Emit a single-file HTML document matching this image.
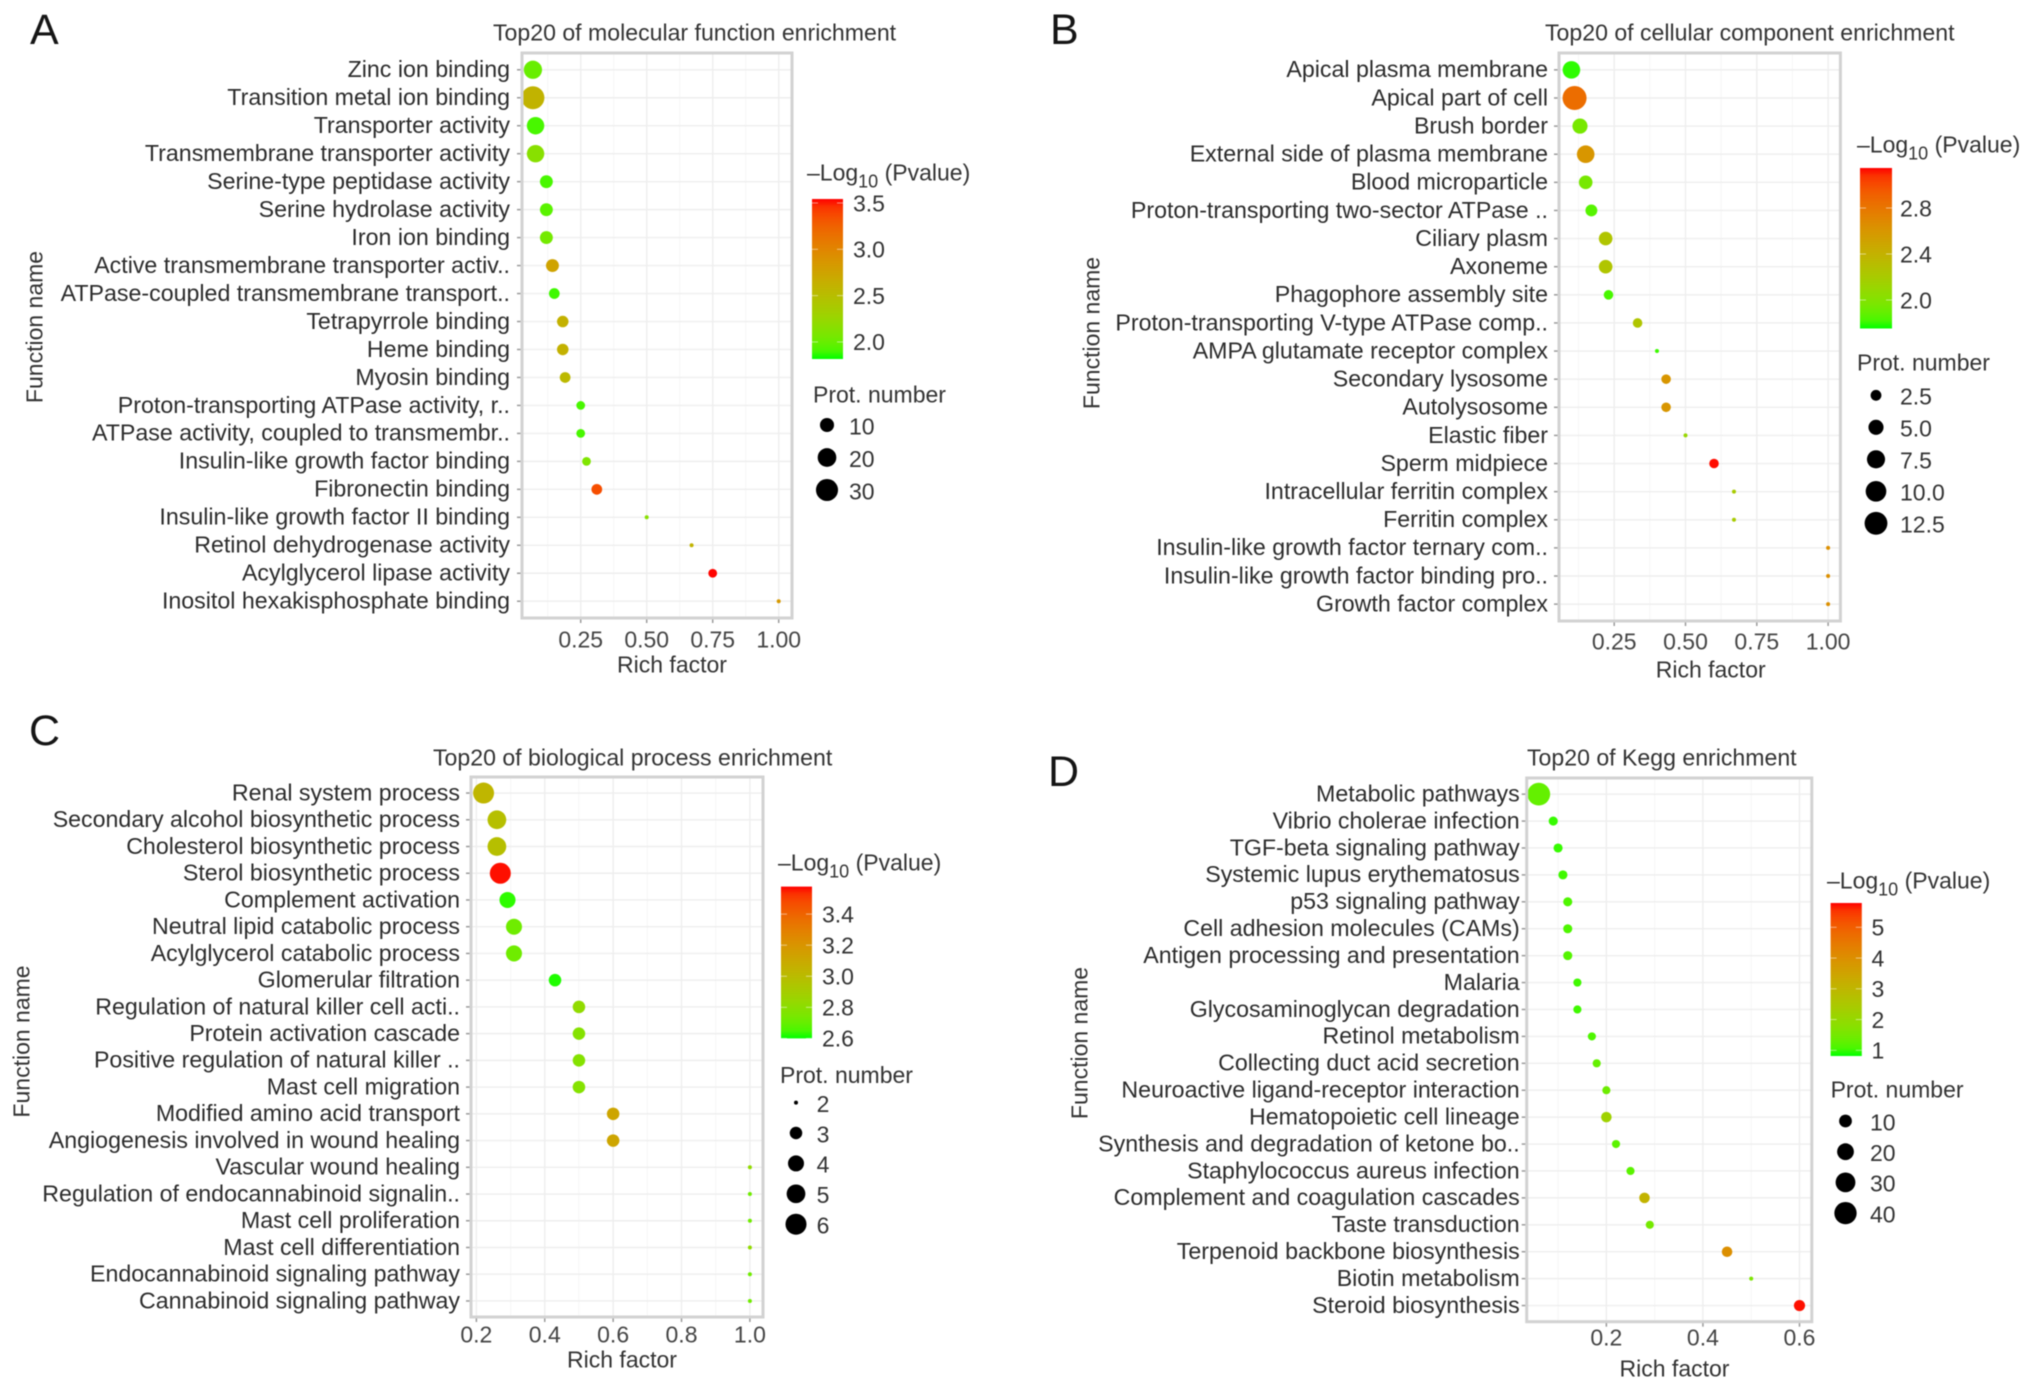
<!DOCTYPE html>
<html lang="en">
<head>
<meta charset="utf-8">
<title>Top20 enrichment bubble charts</title>
<style>
  html, body { margin: 0; padding: 0; background: #ffffff; }
  #figure { display: block; width: 2032px; height: 1388px; filter: blur(0.6px); }
  text { font-family: "Liberation Sans", Arial, sans-serif; font-size: 23px; fill: #333333; }
</style>
</head>
<body>
<svg id="figure" xmlns="http://www.w3.org/2000/svg" width="2032" height="1388" viewBox="0 0 2032 1388"></svg>
<script>
/* ---------- Panel A data ---------- */
const aTitle = "Top20 of molecular function enrichment";
const aTerms = ["Zinc ion binding","Transition metal ion binding","Transporter activity","Transmembrane transporter activity","Serine-type peptidase activity","Serine hydrolase activity","Iron ion binding","Active transmembrane transporter activ..","ATPase-coupled transmembrane transport..","Tetrapyrrole binding","Heme binding","Myosin binding","Proton-transporting ATPase activity, r..","ATPase activity, coupled to transmembr..","Insulin-like growth factor binding","Fibronectin binding","Insulin-like growth factor II binding","Retinol dehydrogenase activity","Acylglycerol lipase activity","Inositol hexakisphosphate binding"];
const aRich = [0.069,0.069,0.079,0.079,0.12,0.12,0.12,0.143,0.15,0.182,0.182,0.191,0.25,0.25,0.272,0.311,0.5,0.67,0.75,1];
const aCount = [19,33,17,17,8,8,8,8,5,6,6,5,3,3,3,5,1,1,3,1];
const aLogP = [2.0,2.6,1.9,2.15,1.9,1.95,2.05,2.75,1.88,2.62,2.62,2.55,1.9,1.9,2.1,3.35,2.15,2.6,3.54,2.85];
const aXTicks = [0.25,0.5,0.75,1];
const aXLabels = ["0.25","0.50","0.75","1.00"];
const aColorTicks = [3.5,3.0,2.5,2.0];
const aColorLabels = ["3.5","3.0","2.5","2.0"];
const aSizeTicks = [10,20,30];

/* ---------- Panel B data ---------- */
const bTitle = "Top20 of cellular component enrichment";
const bTerms = ["Apical plasma membrane","Apical part of cell","Brush border","External side of plasma membrane","Blood microparticle","Proton-transporting two-sector ATPase ..","Ciliary plasm","Axoneme","Phagophore assembly site","Proton-transporting V-type ATPase comp..","AMPA glutamate receptor complex","Secondary lysosome","Autolysosome","Elastic fiber","Sperm midpiece","Intracellular ferritin complex","Ferritin complex","Insulin-like growth factor ternary com..","Insulin-like growth factor binding pro..","Growth factor complex"];
const bRich = [0.1,0.111,0.13,0.15,0.15,0.17,0.22,0.22,0.23,0.332,0.4,0.432,0.432,0.5,0.6,0.67,0.67,1,1,1];
const bCount = [7,14,5,7,4,3,4,4,2,2,1,2,2,1,2,1,1,1,1,1];
const bLogP = [1.78,2.85,1.95,2.6,1.95,1.85,2.25,2.25,1.82,2.25,1.8,2.6,2.6,2.1,3.14,2.2,2.2,2.65,2.65,2.65];
const bXTicks = [0.25,0.5,0.75,1];
const bXLabels = ["0.25","0.50","0.75","1.00"];
const bColorTicks = [2.8,2.4,2.0];
const bColorLabels = ["2.8","2.4","2.0"];
const bSizeTicks = [2.5,5,7.5,10,12.5];
const bSizeLabels = ["2.5","5.0","7.5","10.0","12.5"];

/* ---------- Panel C data ---------- */
const cTitle = "Top20 of biological process enrichment";
const cTerms = ["Renal system process","Secondary alcohol biosynthetic process","Cholesterol biosynthetic process","Sterol biosynthetic process","Complement activation","Neutral lipid catabolic process","Acylglycerol catabolic process","Glomerular filtration","Regulation of natural killer cell acti..","Protein activation cascade","Positive regulation of natural killer ..","Mast cell migration","Modified amino acid transport","Angiogenesis involved in wound healing","Vascular wound healing","Regulation of endocannabinoid signalin..","Mast cell proliferation","Mast cell differentiation","Endocannabinoid signaling pathway","Cannabinoid signaling pathway"];
const cRich = [0.221,0.26,0.26,0.27,0.291,0.31,0.31,0.43,0.5,0.5,0.5,0.5,0.6,0.6,1,1,1,1,1,1];
const cCount = [6,5,5,6,4,4,4,3,3,3,3,3,3,3,2,2,2,2,2,2];
const cLogP = [3.03,2.98,2.98,3.57,2.62,2.72,2.72,2.61,2.82,2.78,2.78,2.78,3.12,3.12,2.82,2.72,2.72,2.82,2.72,2.72];
const cXTicks = [0.2,0.4,0.6,0.8,1];
const cXLabels = ["0.2","0.4","0.6","0.8","1.0"];
const cColorTicks = [3.4,3.2,3.0,2.8,2.6];
const cColorLabels = ["3.4","3.2","3.0","2.8","2.6"];
const cSizeTicks = [2,3,4,5,6];

/* ---------- Panel D data ---------- */
const dTitle = "Top20 of Kegg enrichment";
const dTerms = ["Metabolic pathways","Vibrio cholerae infection","TGF-beta signaling pathway","Systemic lupus erythematosus","p53 signaling pathway","Cell adhesion molecules (CAMs)","Antigen processing and presentation","Malaria","Glycosaminoglycan degradation","Retinol metabolism","Collecting duct acid secretion","Neuroactive ligand-receptor interaction","Hematopoietic cell lineage","Synthesis and degradation of ketone bo..","Staphylococcus aureus infection","Complement and coagulation cascades","Taste transduction","Terpenoid backbone biosynthesis","Biotin metabolism","Steroid biosynthesis"];
const dRich = [0.06,0.09,0.1,0.11,0.12,0.12,0.12,0.14,0.14,0.17,0.18,0.2,0.2,0.22,0.25,0.279,0.29,0.45,0.5,0.6];
const dCount = [42,4,4,4,4,4,4,3,3,3,3,3,6,3,3,6,3,6,1,7];
const dLogP = [1.3,0.95,0.95,1.0,1.1,1.1,1.15,1.0,1.0,1.1,1.3,1.4,2.2,1.2,1.2,3.1,1.5,4.0,1.6,5.75];
const dXTicks = [0.2,0.4,0.6];
const dXLabels = ["0.2","0.4","0.6"];
const dColorTicks = [5,4,3,2,1];
const dColorLabels = ["5","4","3","2","1"];
const dSizeTicks = [10,20,30,40];

/* ---------- Layout (no data here) ---------- */
const panels = [
  { id:"a", letter:"A", letterX:30, letterY:44, title:aTitle, titleX:493, titleY:32,
    terms:aTerms, rich:aRich, count:aCount, logP:aLogP, xTicks:aXTicks, xLabels:aXLabels,
    colorTicks:aColorTicks, colorLabels:aColorLabels, sizeTicks:aSizeTicks, sizeLabels:aSizeTicks.map(String),
    left:522, right:792, top:53, bottom:618, xAt0:514.7, xPerUnit:264, labelGap:12,
    axisTitleX:672, axisTitleY:664, tickLabelY:639, funcX:34, funcY:327,
    legX:807, legY:172, barL:812, barR:843, barT:199, barB:359, cTop:3.543, cBottom:1.816, cLabelX:853,
    protX:813, protY:394, sizeX:827, sizeY:425, sizeStep:32.5, sizeLabelX:849,
    nMin:1, nMax:33, dMin:4, dMax:23 },
  { id:"b", letter:"B", letterX:1050, letterY:44, title:bTitle, titleX:1545, titleY:32,
    terms:bTerms, rich:bRich, count:bCount, logP:bLogP, xTicks:bXTicks, xLabels:bXLabels,
    colorTicks:bColorTicks, colorLabels:bColorLabels, sizeTicks:bSizeTicks, sizeLabels:bSizeLabels,
    left:1559, right:1840.4, top:53, bottom:621, xAt0:1542.9, xPerUnit:285.2, labelGap:11,
    axisTitleX:1710.7, axisTitleY:669, tickLabelY:641, funcX:1091, funcY:333,
    legX:1857, legY:144, barL:1860, barR:1892, barT:168, barB:328.5, cTop:3.148, cBottom:1.752, cLabelX:1900,
    protX:1857, protY:362, sizeX:1876, sizeY:395.3, sizeStep:32, sizeLabelX:1900,
    nMin:1, nMax:14, dMin:4, dMax:24 },
  { id:"c", letter:"C", letterX:29, letterY:745, title:cTitle, titleX:433, titleY:757,
    terms:cTerms, rich:cRich, count:cCount, logP:cLogP, xTicks:cXTicks, xLabels:cXLabels,
    colorTicks:cColorTicks, colorLabels:cColorLabels, sizeTicks:cSizeTicks, sizeLabels:cSizeTicks.map(String),
    left:471, right:763, top:777, bottom:1317, xAt0:408, xPerUnit:341.9, labelGap:11,
    axisTitleX:622, axisTitleY:1359, tickLabelY:1334, funcX:21, funcY:1041.5,
    legX:778, legY:862, barL:781, barR:812, barT:886.6, barB:1038.4, cTop:3.577, cBottom:2.6, cLabelX:822,
    protX:780, protY:1074.6, sizeX:796, sizeY:1102.6, sizeStep:30.4, sizeLabelX:816.6,
    nMin:2, nMax:6, dMin:4, dMax:21 },
  { id:"d", letter:"D", letterX:1048, letterY:786, title:dTitle, titleX:1527, titleY:757,
    terms:dTerms, rich:dRich, count:dCount, logP:dLogP, xTicks:dXTicks, xLabels:dXLabels,
    colorTicks:dColorTicks, colorLabels:dColorLabels, sizeTicks:dSizeTicks, sizeLabels:dSizeTicks.map(String),
    left:1526.7, right:1811.8, top:778, bottom:1321.7, xAt0:1509.8, xPerUnit:482.8, labelGap:7,
    axisTitleX:1674.5, axisTitleY:1368, tickLabelY:1337, funcX:1079, funcY:1043,
    legX:1827, legY:880, barL:1830.6, barR:1861.8, barT:903, barB:1056, cTop:5.79, cBottom:0.815, cLabelX:1871.5,
    protX:1830.6, protY:1089, sizeX:1845.5, sizeY:1121, sizeStep:30.7, sizeLabelX:1870,
    nMin:1, nMax:43, dMin:4, dMax:23 }
];

/* ---------- Helpers ---------- */
const NS = "http://www.w3.org/2000/svg";
const root = document.getElementById("figure");
const defs = document.createElementNS(NS, "defs");
root.appendChild(defs);

function mk(tag, attrs, parent) {
  const el = document.createElementNS(NS, tag);
  for (const k in attrs) el.setAttribute(k, attrs[k]);
  parent.appendChild(el);
  return el;
}
function slug(s) {
  return String(s).toLowerCase().replace(/[^a-z0-9]+/g, "-").replace(/^-|-$/g, "");
}
function rgb2lab(c) {
  const f = c.map(v => { v /= 255; return v > 0.04045 ? Math.pow((v + 0.055) / 1.055, 2.4) : v / 12.92; });
  const X = (0.4124564*f[0] + 0.3575761*f[1] + 0.1804375*f[2]) / 0.95047;
  const Y = (0.2126729*f[0] + 0.7151522*f[1] + 0.0721750*f[2]);
  const Z = (0.0193339*f[0] + 0.1191920*f[1] + 0.9503041*f[2]) / 1.08883;
  const g = t => t > 0.008856 ? Math.cbrt(t) : 7.787*t + 16/116;
  return [116*g(Y) - 16, 500*(g(X) - g(Y)), 200*(g(Y) - g(Z))];
}
function lab2rgb(l) {
  const fy = (l[0] + 16) / 116, fx = fy + l[1] / 500, fz = fy - l[2] / 200;
  const h = t => t*t*t > 0.008856 ? t*t*t : (t - 16/116) / 7.787;
  const X = h(fx)*0.95047, Y = h(fy), Z = h(fz)*1.08883;
  const lin = [ 3.2404542*X - 1.5371385*Y - 0.4985314*Z,
               -0.9692660*X + 1.8760108*Y + 0.0415560*Z,
                0.0556434*X - 0.2040259*Y + 1.0572252*Z];
  return lin.map(v => {
    v = Math.max(0, Math.min(1, v));
    v = v > 0.0031308 ? 1.055*Math.pow(v, 1/2.4) - 0.055 : 12.92*v;
    return Math.round(v*255);
  });
}
const LOW = rgb2lab([0,255,0]), HIGH = rgb2lab([255,0,0]);
function gradientColor(t) {
  t = Math.max(0, Math.min(1, t));
  const c = lab2rgb(LOW.map((v, i) => v + (HIGH[i] - v)*t));
  return "rgb(" + c.join(",") + ")";
}

function drawPanel(p) {
  const g = mk("g", {}, root);
  
  

  const xScale = v => p.xAt0 + p.xPerUnit * v;
  const rowStep = (p.bottom - p.top) / (p.terms.length - 1 + 1.2);
  const yScale = i => p.top + (i + 0.6) * rowStep;
  const colorT = v => (v - p.cBottom) / (p.cTop - p.cBottom);
  const barY = v => p.barB - (v - p.cBottom) / (p.cTop - p.cBottom) * (p.barB - p.barT);
  const diameter = n => p.dMin + (p.dMax - p.dMin) * Math.sqrt(Math.max(0, n - p.nMin) / (p.nMax - p.nMin));

  /* panel letter */
  const letter = mk("text", { x:p.letterX, y:p.letterY, style:"font-size:43px;fill:#151515" }, g);
  letter.textContent = p.letter;
  
  

  /* title */
  const title = mk("text", { x:p.titleX, y:p.titleY, dy:"0.36em", style:"font-size:23.1px" }, g);
  title.textContent = p.title;
  
  

  /* minor vertical grid */
  const tickStep = p.xTicks.length > 1 ? p.xTicks[1] - p.xTicks[0] : 0;
  for (let k = -1; k < p.xTicks.length; k++) {
    const mv = p.xTicks[0] + (k + 0.5) * tickStep;
    const mx = xScale(mv);
    if (mx <= p.left || mx >= p.right) continue;
    const minor = mk("line", { x1:mx, x2:mx, y1:p.top, y2:p.bottom, stroke:"#f6f6f6", "stroke-width":1 }, g);
    
    
  }
  /* major vertical grid, ticks and labels */
  p.xTicks.forEach((v, i) => {
    const x = xScale(v);
    const line = mk("line", { x1:x, x2:x, y1:p.top, y2:p.bottom, stroke:"#eeeeee", "stroke-width":1.4 }, g);
    
    
    const tick = mk("line", { x1:x, x2:x, y1:p.bottom, y2:p.bottom + 5, stroke:"#9a9a9a", "stroke-width":1.5 }, g);
    
    
    const label = mk("text", { x:x, y:p.tickLabelY, dy:"0.36em", "text-anchor":"middle", style:"fill:#444444" }, g);
    label.textContent = p.xLabels[i];
    
    
  });

  /* rows: gridline, tick, label */
  p.terms.forEach((term, i) => {
    const y = yScale(i);
    const line = mk("line", { x1:p.left, x2:p.right, y1:y, y2:y, stroke:"#eeeeee", "stroke-width":1.4 }, g);
    
    
    const tick = mk("line", { x1:p.left - 5, x2:p.left, y1:y, y2:y, stroke:"#9a9a9a", "stroke-width":1.5 }, g);
    
    
    const label = mk("text", { x:p.left - p.labelGap, y:y - 1, dy:"0.36em", "text-anchor":"end", style:"font-size:23.2px;fill:#2c2c2c" }, g);
    label.textContent = term;
    
    
  });

  /* bubbles */
  p.terms.forEach((term, i) => {
    const dot = mk("circle", { cx:xScale(p.rich[i]), cy:yScale(i), r:diameter(p.count[i]) / 2, fill:gradientColor(colorT(p.logP[i])) }, g);
    
    
  });

  /* panel border */
  const border = mk("rect", { x:p.left, y:p.top, width:p.right - p.left, height:p.bottom - p.top, fill:"none", stroke:"#d2d2d2", "stroke-width":3 }, g);
  
  

  /* axis titles */
  const xTitle = mk("text", { x:p.axisTitleX, y:p.axisTitleY, dy:"0.36em", "text-anchor":"middle" }, g);
  xTitle.textContent = "Rich factor";
  
  
  const yTitle = mk("text", { x:0, y:0, dy:"0.36em", "text-anchor":"middle", transform:"translate(" + p.funcX + "," + p.funcY + ") rotate(-90)" }, g);
  yTitle.textContent = "Function name";
  
  

  /* colour legend */
  const legT = mk("text", { x:p.legX, y:p.legY, dy:"0.36em" }, g);
  
  
  const t1 = mk("tspan", {}, legT);
  t1.textContent = "\u2013Log";
  const t2 = mk("tspan", { dy:"7", style:"font-size:18px" }, legT);
  t2.textContent = "10";
  const t3 = mk("tspan", { dy:"-7" }, legT);
  t3.textContent = " (Pvalue)";

  const grad = mk("linearGradient", { id:"grad-" + p.id, x1:"0", x2:"0", y1:"1", y2:"0" }, defs);
  for (let s = 0; s <= 20; s++) {
    mk("stop", { offset:(s / 20), "stop-color":gradientColor(s / 20) }, grad);
  }
  const bar = mk("rect", { x:p.barL, y:p.barT, width:p.barR - p.barL, height:p.barB - p.barT, fill:"url(#grad-" + p.id + ")" }, g);
  
  
  p.colorTicks.forEach((v, i) => {
    const y = barY(v);
    const tickL = mk("line", { x1:p.barL, x2:p.barL + 6, y1:y, y2:y, stroke:"#ffffff", "stroke-opacity":0.5, "stroke-width":1 }, g);
    
    
    const tickR = mk("line", { x1:p.barR - 6, x2:p.barR, y1:y, y2:y, stroke:"#ffffff", "stroke-opacity":0.5, "stroke-width":1 }, g);
    
    
    const label = mk("text", { x:p.cLabelX, y:y, dy:"0.36em" }, g);
    label.textContent = p.colorLabels[i];
    
    
  });

  /* size legend */
  const protT = mk("text", { x:p.protX, y:p.protY, dy:"0.36em" }, g);
  protT.textContent = "Prot. number";
  
  
  p.sizeTicks.forEach((n, i) => {
    const y = p.sizeY + i * p.sizeStep;
    const key = mk("circle", { cx:p.sizeX, cy:y, r:diameter(n) / 2, fill:"#000000" }, g);
    
    
    const label = mk("text", { x:p.sizeLabelX, y:y + 1, dy:"0.36em" }, g);
    label.textContent = p.sizeLabels[i];
    
    
  });
}

panels.forEach(drawPanel);
</script>
</body>
</html>
